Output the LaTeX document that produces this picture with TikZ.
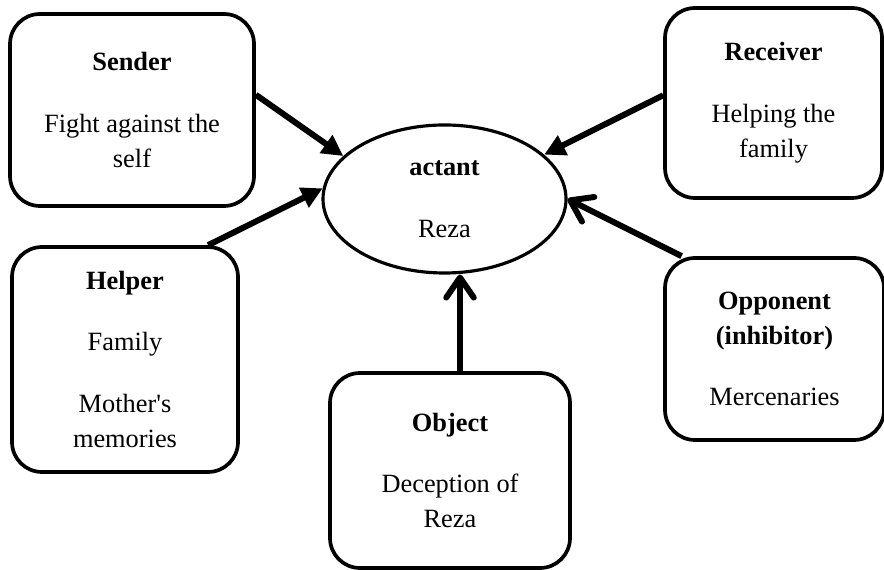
\documentclass[tikz,border=0pt]{standalone}
\usepackage{fontspec}
\setmainfont{Liberation Serif}
\usetikzlibrary{arrows.meta,shapes.geometric}

\begin{document}
\begin{tikzpicture}[x=1cm,y=1cm,
  rolebox/.style={rectangle,rounded corners=0.6cm,draw=black,line width=2.1pt,align=center,font=\fontsize{15}{20}\selectfont},
  actantnode/.style={ellipse,draw=black,line width=1.8pt,align=center,minimum width=4.86cm,minimum height=2.96cm,inner sep=0pt,font=\fontsize{15}{20}\selectfont},
  flow/.style={-{Triangle[length=0.42cm,width=0.42cm]},line width=3.4pt},
  barbflow/.style={-{Straight Barb[length=0.4cm,width=0.55cm,round]},line width=3.4pt}]
  \useasboundingbox (0,0) rectangle (17.68,11.38);

  \node[actantnode] (actant) at (8.89,7.4) {\textbf{actant}\\[15pt]Reza};

  \node[rolebox,minimum width=4.88cm,minimum height=3.84cm] (sender) at (2.64,9.18) {\textbf{Sender}\\[15pt]Fight against the\\self};
  \node[rolebox,minimum width=4.34cm,minimum height=3.8cm] (receiver) at (15.47,9.32) {\textbf{Receiver}\\[15pt]Helping the\\family};
  \node[rolebox,minimum width=4.52cm,minimum height=4.5cm] (helper) at (2.5,4.19) {\textbf{Helper}\\[15pt]Family\\[15pt]Mother\textquotesingle s\\memories};
  \node[rolebox,minimum width=4.8cm,minimum height=3.9cm] (object) at (9.0,1.97) {\textbf{Object}\\[15pt]Deception of\\Reza};
  \node[rolebox,minimum width=4.38cm,minimum height=3.64cm] (opponent) at (15.49,4.4) {\textbf{Opponent}\\\textbf{(inhibitor)}\\[15pt]Mercenaries};

  \coordinate (objtop) at ([xshift=0.2cm]object.north);

  \draw[flow] (sender.7) -- (actant.157);
  \draw[flow] (receiver.176) -- (actant.24);
  \draw[flow] (helper.54) -- (actant.175);
  \draw[barbflow] (objtop) -- (objtop |- actant.south);
  \draw[barbflow] (opponent.135.5) -- (actant.east);
\end{tikzpicture}
\end{document}
